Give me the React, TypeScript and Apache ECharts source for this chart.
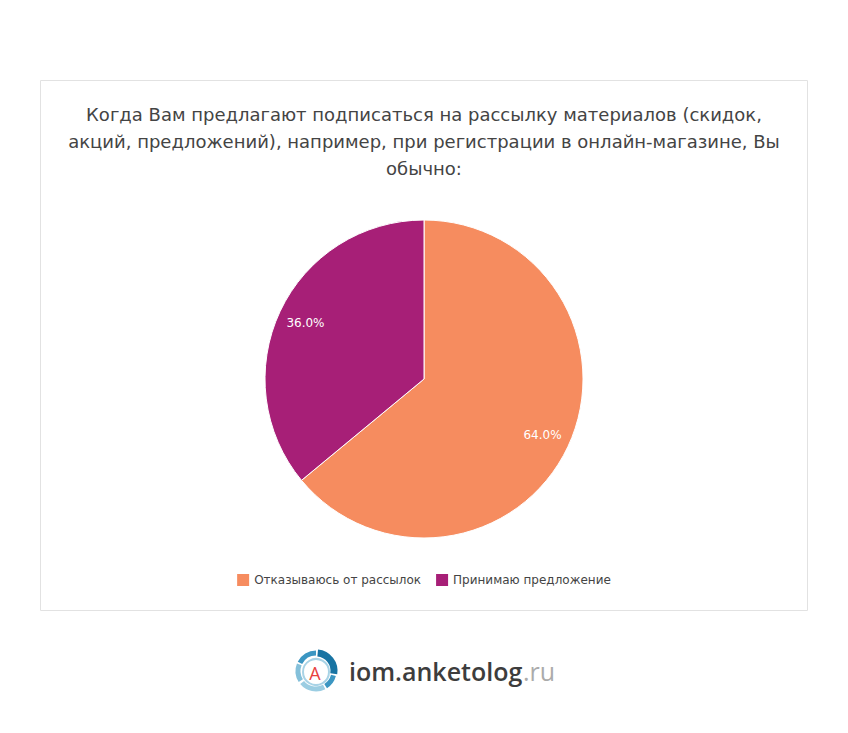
import React, { useEffect, useRef } from "react";
import * as echarts from "echarts";

const categories = ["Отказываюсь от рассылок", "Принимаю предложение"];
const values = [64.0, 36.0];
const colors = ["#F68C5F", "#A71F77"];
const titleLines = [
  "Когда Вам предлагают подписаться на рассылку материалов (скидок,",
  "акций, предложений), например, при регистрации в онлайн-магазине, Вы",
  "обычно:",
];

export default function App() {
  const ref = useRef<HTMLDivElement>(null);
  useEffect(() => {
    if (!ref.current) return;
    const chart = echarts.init(ref.current, null, { renderer: "svg" });
    const data = categories.map((name, i) => ({ name, value: values[i], itemStyle: { color: colors[i] } }));
    const cx = 316, cy = 671;
    chart.setOption({
      animation: false,
      backgroundColor: "#ffffff",
      title: {
        text: titleLines.join("\n"),
        left: "center",
        top: 101,
        padding: 0,
        textStyle: {
          fontFamily: "DejaVu Sans",
          fontSize: 18,
          fontWeight: "normal",
          color: "#444444",
          lineHeight: 27,
        },
      },
      legend: {
        bottom: 142,
        left: "center",
        itemWidth: 12,
        itemHeight: 12,
        itemGap: 15,
        textStyle: { fontFamily: "DejaVu Sans", fontSize: 12, color: "#444444" },
        data: categories.map((name, i) => ({
          name,
          icon: "rect",
          itemStyle: { color: colors[i], borderColor: colors[i], borderWidth: 0 },
        })),
      },
      graphic: [
        {
          type: "rect",
          z: -10,
          silent: true,
          shape: { x: 40.5, y: 80.5, width: 767, height: 530 },
          style: { fill: "#ffffff", stroke: "#e2e2e2", lineWidth: 1 },
        },
        {
          type: "group",
          children: [
            { type: "arc", shape: { cx, cy, r: 18, startAngle: -Math.PI * 0.47, endAngle: Math.PI * 0.05 }, style: { stroke: "#1874a3", lineWidth: 7, fill: "none" } },
            { type: "arc", shape: { cx, cy, r: 18, startAngle: -Math.PI * 0.85, endAngle: -Math.PI * 0.5 }, style: { stroke: "#3b96c2", lineWidth: 5, fill: "none" } },
            { type: "arc", shape: { cx, cy, r: 18, startAngle: Math.PI * 0.82, endAngle: Math.PI * 1.12 }, style: { stroke: "#84c0da", lineWidth: 5, fill: "none" } },
            { type: "arc", shape: { cx, cy, r: 18, startAngle: Math.PI * 0.35, endAngle: Math.PI * 0.78 }, style: { stroke: "#9bcde2", lineWidth: 5, fill: "none" } },
            { type: "arc", shape: { cx, cy, r: 18, startAngle: Math.PI * 0.08, endAngle: Math.PI * 0.32 }, style: { stroke: "#3b96c2", lineWidth: 5, fill: "none" } },
            { type: "circle", shape: { cx, cy: cy + 1, r: 13 }, style: { fill: "#ffffff", stroke: "#a8d3e6", lineWidth: 2 } },
            { type: "text", x: cx - 1, y: cy + 2, style: { text: "A", fill: "#e8423f", fontFamily: "Open Sans", fontSize: 18, align: "center", verticalAlign: "middle" } },
            { type: "text", x: 349, y: 671, style: { text: "iom.anketolog", fill: "#3d3d3d", fontFamily: "Open Sans", fontWeight: 600, fontSize: 25, verticalAlign: "middle" } },
            { type: "text", x: 523, y: 671, style: { text: ".ru", fill: "#ababab", fontFamily: "Open Sans", fontSize: 25, verticalAlign: "middle" } },
          ],
        },
      ],
      series: [
        {
          type: "pie",
          center: [424, 379],
          radius: [0, 159],
          startAngle: 90,
          clockwise: true,
          data,
          itemStyle: { borderColor: "#ffffff", borderWidth: 1 },
          label: { show: false },
          labelLine: { show: false },
          emphasis: { disabled: true },
        },
        {
          type: "pie",
          center: [424, 379],
          radius: [97, 159],
          startAngle: 90,
          clockwise: true,
          silent: true,
          data: categories.map((name, i) => ({ name, value: values[i] })),
          itemStyle: { color: "rgba(0,0,0,0)" },
          label: {
            show: true,
            position: "inside",
            formatter: (p: any) => p.value.toFixed(1) + "%",
            color: "#ffffff",
            fontFamily: "DejaVu Sans",
            fontSize: 12,
          },
          labelLine: { show: false },
          emphasis: { disabled: true },
          legendHoverLink: false,
        },
      ],
    });
    return () => chart.dispose();
  }, []);
  return <div ref={ref} style={{ position: "absolute", left: 0, top: 0, width: 848, height: 733 }} />;
}
